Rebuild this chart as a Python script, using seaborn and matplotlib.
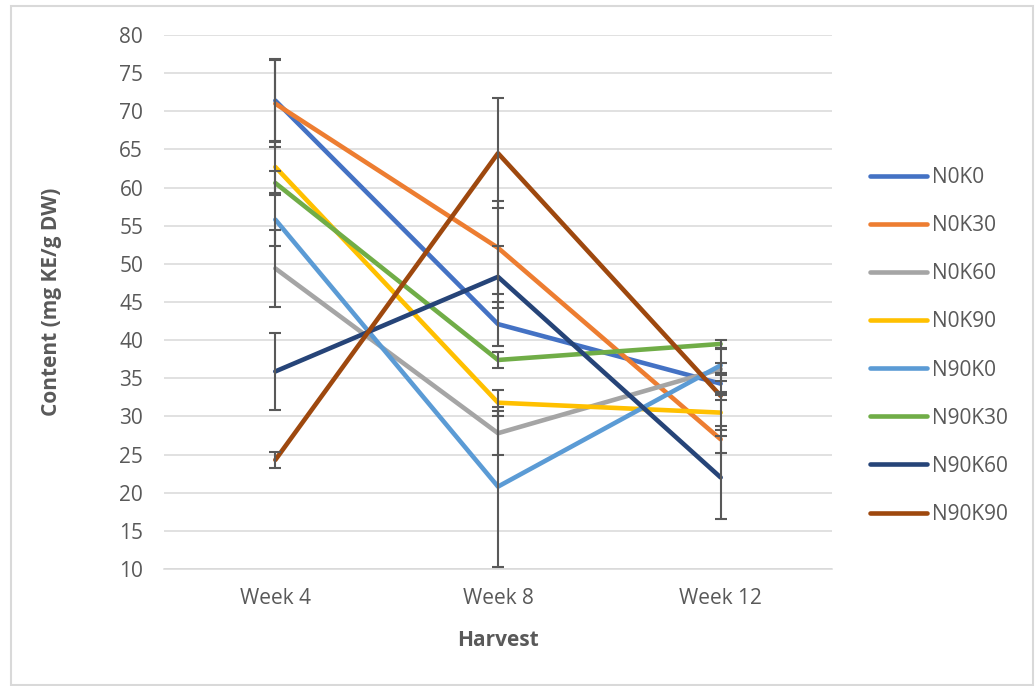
import pandas as pd
import seaborn as sns
import matplotlib.pyplot as plt
from matplotlib.patches import Rectangle

# harvest weeks
weeks = ['Week 4', 'Week 8', 'Week 12']

# treatments
treatments = ['N0K0', 'N0K30', 'N0K60', 'N0K90', 'N90K0', 'N90K30', 'N90K60', 'N90K90']

# mean content (mg KE/g DW), per treatment over the weeks
n0k0 = [71.4, 42.1, 34.3]
n0k30 = [71.0, 52.1, 27.0]
n0k60 = [49.4, 27.8, 36.2]
n0k90 = [62.7, 31.8, 30.5]
n90k0 = [55.8, 20.8, 36.7]
n90k30 = [60.6, 37.4, 39.5]
n90k60 = [35.9, 48.3, 22.0]
n90k90 = [24.3, 64.5, 32.7]

# error bar half widths
err_n0k0 = [5.4, 2.9, 1.4]
err_n0k30 = [5.7, 6.1, 1.8]
err_n0k60 = [5.1, 2.9, 0.8]
err_n0k90 = [3.4, 1.7, 2.3]
err_n90k0 = [3.4, 10.5, 2.1]
err_n90k30 = [1.6, 1.0, 0.5]
err_n90k60 = [5.0, 4.1, 5.4]
err_n90k90 = [1.1, 7.2, 0.5]

colors = ['#4472C4', '#ED7D31', '#A5A5A5', '#FFC000',
          '#5B9BD5', '#70AD47', '#264478', '#9E480E']

means = [n0k0, n0k30, n0k60, n0k90, n90k0, n90k30, n90k60, n90k90]
errs = [err_n0k0, err_n0k30, err_n0k60, err_n0k90,
        err_n90k0, err_n90k30, err_n90k60, err_n90k90]

rows = []
for t, m, e in zip(treatments, means, errs):
	for w, v, s in zip(weeks, m, e):
		rows.append({'Harvest': w, 'Treatment': t, 'Content': v, 'err': s})
df = pd.DataFrame(rows)

sns.set_style('white')
plt.rcParams['font.family'] = ['Open Sans', 'DejaVu Sans']
txt = '#595959'
fs = 15

fig = plt.figure(figsize=(10.36, 6.86), dpi=100)
ax = fig.add_axes([164/1036, 1 - 569/686, 668/1036, 534/686])

p = sns.lineplot(data=df, x='Harvest', y='Content', hue='Treatment',
                 hue_order=treatments, palette=colors, sort=False,
                 linewidth=3.3, ax=ax, zorder=3)
for line in ax.get_lines():
	line.set_solid_capstyle('round')
	line.set_solid_joinstyle('round')

for t in treatments:
	sub = df[df['Treatment'] == t]
	ax.errorbar(x=range(len(weeks)), y=sub['Content'], yerr=sub['err'],
	            fmt='none', ecolor=txt, elinewidth=1.5, capsize=4.5,
	            capthick=1.5, zorder=4)

ax.set_xlim(-0.5, 2.5)
ax.set_ylim(10, 80)
ax.set_yticks(range(10, 81, 5))
ax.grid(axis='y', color='#d9d9d9', linewidth=1.1)
ax.grid(axis='x', visible=False)
for s in ['top', 'right', 'left']:
	ax.spines[s].set_visible(False)
ax.spines['bottom'].set_color('#d9d9d9')
ax.spines['bottom'].set_linewidth(1.1)
ax.tick_params(axis='y', length=0, pad=15, labelsize=fs, labelcolor=txt)
ax.tick_params(axis='x', length=0, pad=14, labelsize=fs, labelcolor=txt)
ax.set_xlabel('Harvest', fontsize=fs, fontweight='bold', color=txt, labelpad=15)
ax.set_ylabel('Content (mg KE/g DW)', fontsize=fs, fontweight='bold', color=txt)
ax.yaxis.set_label_coords(-0.153, 0.5)

handles, labels = ax.get_legend_handles_labels()
ax.get_legend().remove()
leg = fig.legend(handles, labels, loc='center left', bbox_to_anchor=(870/1036, 1 - 346/686),
                 frameon=False, fontsize=fs, handlelength=2.75, handletextpad=0.25,
                 labelspacing=1.3, borderpad=0, borderaxespad=0)
for t in leg.get_texts():
	t.set_color(txt)
for h in leg.get_lines():
	h.set_linewidth(3.3)
	h.set_solid_capstyle('round')

fig.patches.append(Rectangle((11/1036, 1/686), 1022/1036, 679/686, transform=fig.transFigure,
                             fill=False, edgecolor='#d9d9d9', linewidth=1.5))

plt.savefig('out.png', dpi=100)
